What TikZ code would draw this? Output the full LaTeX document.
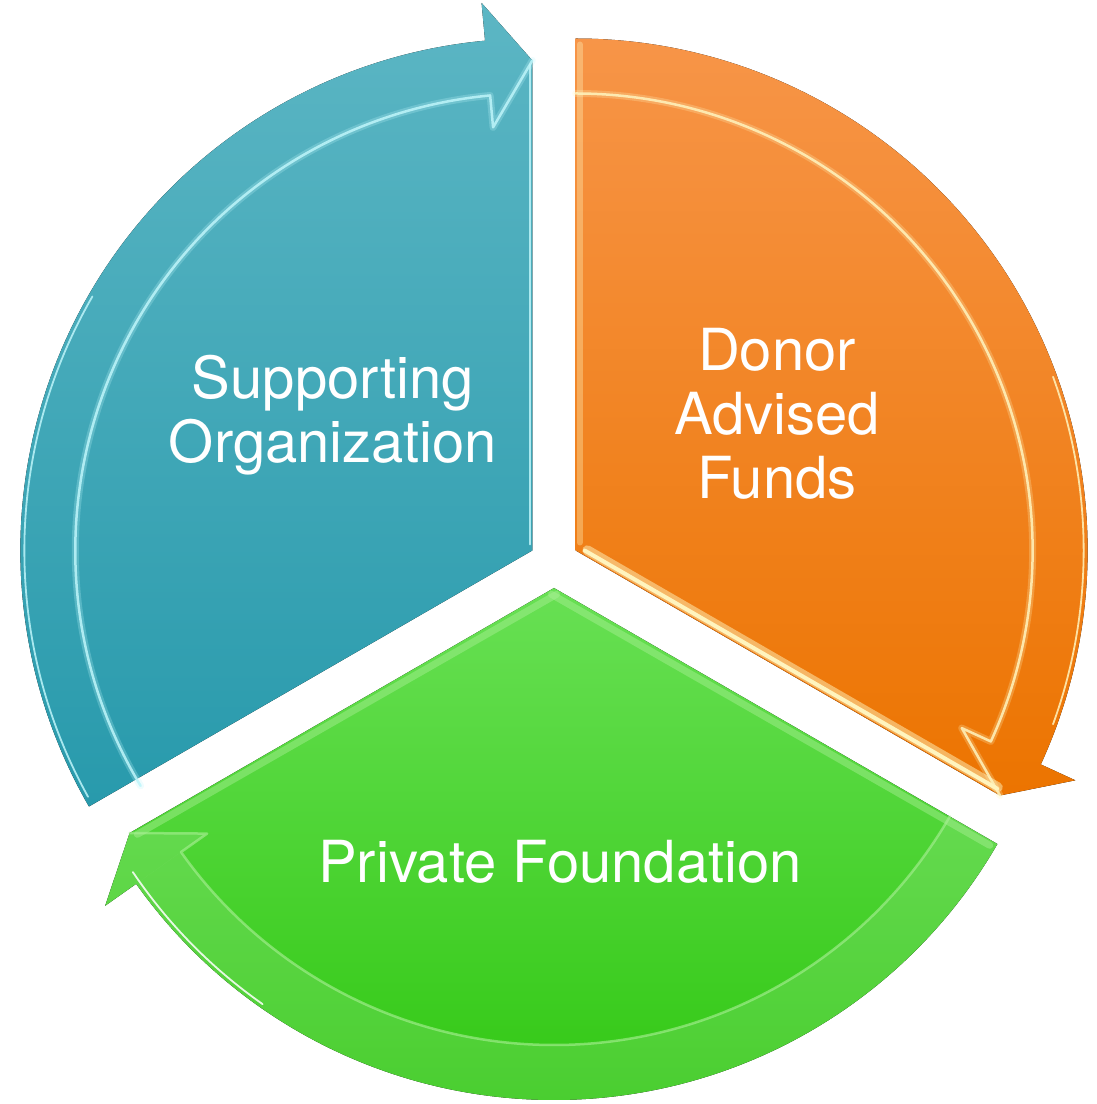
\documentclass[tikz,border=0pt]{standalone}
\usepackage{fontspec}
\setmainfont{TeX Gyre Heros}
\usetikzlibrary{calc}
\definecolor{supptop}{RGB}{92,182,196}
\definecolor{suppbot}{RGB}{40,154,172}
\definecolor{donortop}{RGB}{247,149,72}
\definecolor{donorbot}{RGB}{236,116,0}
\definecolor{privtop}{RGB}{104,224,84}
\definecolor{privbot}{RGB}{50,200,20}
\definecolor{suppglint}{RGB}{190,245,250}
\definecolor{donorglint}{RGB}{255,244,190}
\definecolor{privglint}{RGB}{170,240,150}

\begin{document}
\begin{tikzpicture}[x=1pt, y=1pt,
    glint/.style={line width=2.5pt, line join=round, line cap=round, opacity=0.85},
    softglint/.style={line width=7pt, line join=round, line cap=round, opacity=0.25},
    band/.style={fill=white, opacity=0.12},
    segtext/.style={text=white, align=center, font=\fontsize{58}{64}\selectfont}]
  \useasboundingbox (0,0) rectangle (1097,1104);
  \coordinate (O) at (554,541);

  % ===== Supporting Organization (210 -> 90) =====
  \begin{scope}[shift={($(O)+(150:25)$)}]
    \fill[top color=supptop, bottom color=suppbot]
      (0,0) -- (210:512) arc[start angle=210, end angle=95.3, radius=512pt]
      -- (95.3:550) -- (90:490) -- cycle;
    \draw[softglint, suppglint] (211:457) arc[start angle=211, end angle=95.3, radius=457pt]
      -- (95.3:425) -- (90:490);
    \draw[glint, suppglint] (211:457) arc[start angle=211, end angle=95.3, radius=457pt]
      -- (95.3:425) -- (90:490);
    \draw[glint, suppglint, line width=1.8pt] (209:508) arc[start angle=209, end angle=150, radius=508pt];
    \draw[glint, suppglint, line width=2pt] ($(0,6)+(180:2.5)$) -- ($(90:486)+(180:2.5)$);
  \end{scope}

  % ===== Donor Advised Funds (90 -> -30) =====
  \begin{scope}[shift={($(O)+(30:25)$)}]
    \fill[top color=donortop, bottom color=donorbot]
      (0,0) -- (90:512) arc[start angle=90, end angle=-24.7, radius=512pt]
      -- (-24.7:550) -- (-30:490) -- cycle;
    \draw[softglint, donorglint] (90:457) arc[start angle=90, end angle=-24.7, radius=457pt]
      -- (-24.7:425) -- (-30:490);
    \draw[glint, donorglint] (90:457) arc[start angle=90, end angle=-24.7, radius=457pt]
      -- (-24.7:425) -- (-30:490);
    \draw[softglint, donorglint, line width=10pt, opacity=0.5] ($(-30:10)+(60:6)$) -- ($(-30:484)+(60:6)$);
    \draw[glint, donorglint, line width=4pt, opacity=1] ($(-30:8)+(60:4.5)$) -- ($(-30:484)+(60:4.5)$);
    \draw[softglint, donorglint, line width=6pt, opacity=0.35] ($(90:506)+(0:4)$) -- ($(90:8)+(0:4)$);
    \draw[glint, donorglint, line width=1.8pt] (20:508) arc[start angle=20, end angle=-20, radius=508pt];
  \end{scope}

  % ===== Private Foundation (330 -> 210) =====
  \begin{scope}[shift={($(O)+(270:25)$)}]
    \fill[top color=privtop, bottom color=privbot]
      (0,0) -- (330:512) arc[start angle=330, end angle=215.3, radius=512pt]
      -- (215.3:550) -- (210:490) -- cycle;
    \fill[band] (330:512) arc[start angle=330, end angle=215.3, radius=512pt]
      -- (215.3:457) arc[start angle=215.3, end angle=330, radius=457pt] -- cycle;
    \fill[band] (215.3:425) -- (215.3:550) -- (210:490) -- cycle;
    \draw[glint, privglint, opacity=0.6] (330:457) arc[start angle=330, end angle=215.3, radius=457pt]
      -- (215.3:425) -- (210:490);
    \draw[softglint, privglint, opacity=0.45] ($(210:484)+(300:5)$) -- ($(0,-2)+(300:5)$);
    \draw[softglint, privglint, opacity=0.45] ($(0,-2)+(240:5)$) -- ($(330:506)+(240:5)$);
    \draw[glint, white, line width=1.8pt] (214:508) arc[start angle=214, end angle=235, radius=508pt];
  \end{scope}

  % Labels
  \node[segtext] (supp) at (333,689) {Supporting\\Organization};
  \node[segtext] (donor) at (777,690) {Donor\\Advised\\Funds};
  \node[segtext] (priv) at (560,242) {Private Foundation};
\end{tikzpicture}
\end{document}
